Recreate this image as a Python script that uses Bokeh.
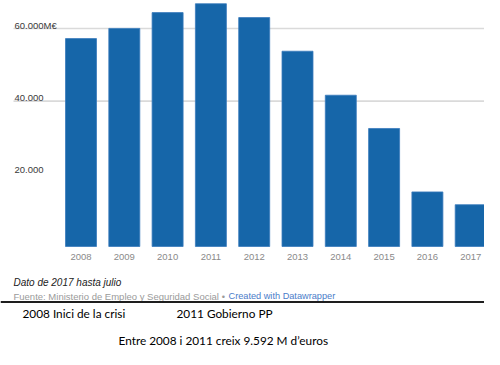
from bokeh.plotting import figure
from bokeh.models import Range1d
from bokeh.core.properties import value
from bokeh.embed import file_html
from bokeh.resources import INLINE

# ---- data ----
years = ["2008", "2009", "2010", "2011", "2012", "2013", "2014", "2015", "2016", "2017"]
fondo = [57223, 60022, 64375, 66815, 63008, 53744, 41634, 32481, 15020, 11500]
grid_values = [40000, 60000]
ytick_values = [60000, 40000, 20000]
ytick_labels = ["60.000M€", "40.000", "20.000"]
note_text = "Dato de 2017 hasta julio"
source_text = "Fuente: Ministerio de Empleo y Seguridad Social"
bullet_text = "•"
credit_text = "Created with Datawrapper"
caption_1 = "2008 Inici de la crisi"
caption_2 = "2011 Gobierno PP"
caption_3 = "Entre 2008 i 2011 creix 9.592 M d’euros"

W, H = 484, 349
PXY = 218 / 60000.0   # px per unit
BASE = 246            # canvas y of value 0
X0, DX = 80.5, 43.3   # canvas x of first bar centre, px per category

def x_of(px):
    return (px - X0) / DX

def y_of(py):
    return (BASE - py) / PXY

p = figure(width=W, height=H, output_backend="svg", toolbar_location=None,
           x_range=Range1d(x_of(0), x_of(W)), y_range=Range1d(y_of(H), y_of(0)),
           x_axis_location=None, y_axis_location=None,
           min_border=0, min_border_left=0, min_border_right=0,
           min_border_top=0, min_border_bottom=0)
p.outline_line_color = None
p.xgrid.visible = False
p.ygrid.visible = False
p.background_fill_color = "white"
p.border_fill_color = "white"

idx = list(range(len(years)))

# grid lines
p.segment(x0=[x_of(13)] * len(grid_values), x1=[x_of(W)] * len(grid_values),
          y0=grid_values, y1=grid_values, line_color="#dadada", line_width=1.6)

# bars
p.vbar(x=idx, top=fondo, bottom=0, width=31 / DX, fill_color="#1666a9",
       line_color="#3a7bbd", line_width=0.8)

FONT = value("Liberation Sans")

# y labels
p.text(x=[x_of(14)] * len(ytick_values), y=[v + 3.4 / PXY for v in ytick_values],
       text=ytick_labels, text_font=FONT, text_font_size="9.5px",
       text_color="#3a3a3a", text_align="left", text_baseline="alphabetic")

# x labels
p.text(x=idx, y=[y_of(256)] * len(idx), text=years, text_font=FONT,
       text_font_size="9.5px", text_color="#8a8a8a", text_align="center",
       text_baseline="middle")

# note & source
p.text(x=[x_of(13)], y=[y_of(282)], text=[note_text], text_font=FONT,
       text_font_size="10px", text_font_style="italic", text_color="#222222",
       text_align="left", text_baseline="middle")
p.text(x=[x_of(13)], y=[y_of(295.5)], text=[source_text], text_font=FONT,
       text_font_size="9.5px", text_color="#9a9a9a", text_align="left",
       text_baseline="middle")
p.text(x=[x_of(223)], y=[y_of(295.5)], text=[bullet_text], text_font=FONT,
       text_font_size="9.4px", text_color="#9a9a9a", text_align="center",
       text_baseline="middle")
p.text(x=[x_of(228)], y=[y_of(295.5)], text=[credit_text], text_font=FONT,
       text_font_size="9.2px", text_color="#4a7cc9", text_align="left",
       text_baseline="middle")

# separator line
p.segment(x0=[x_of(0)], x1=[x_of(W)], y0=[y_of(301.5)], y1=[y_of(301.5)],
          line_color="#1e1e1e", line_width=2.2)

# captions
CAP = value("Lato")
p.text(x=[x_of(22), x_of(176)], y=[y_of(313), y_of(313)], text=[caption_1, caption_2],
       text_font=CAP, text_font_size="11.8px", text_color="#000000",
       text_align="left", text_baseline="middle")
p.text(x=[x_of(118)], y=[y_of(340)], text=[caption_3], text_font=CAP,
       text_font_size="11.8px", text_color="#000000", text_align="left",
       text_baseline="middle")

open("out.html", "w").write(file_html(p, INLINE))
